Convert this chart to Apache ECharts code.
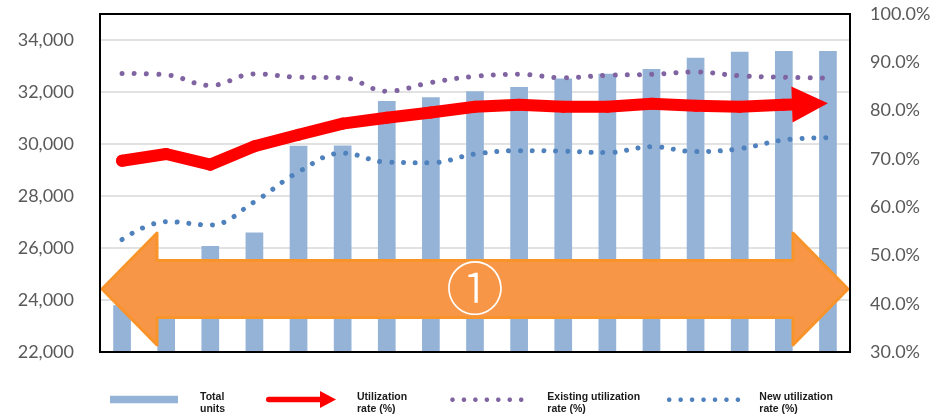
<!DOCTYPE html>
<html>
<head>
<meta charset="utf-8">
<style>
  html, body { margin: 0; padding: 0; background: #fff; }
  #chart { width: 948px; height: 419px; }
</style>
<script src="https://cdn.jsdelivr.net/npm/echarts@6/dist/echarts.min.js"></script>
</head>
<body>
<div id="chart"></div>
<script>
// Periods along the horizontal axis (labels are not displayed)
const periods = ['1', '2', '3', '4', '5', '6', '7', '8', '9', '10', '11', '12', '13', '14', '15', '16', '17'];

// Total units (left axis)
const totalUnits = [23800, 24900, 26080, 26600, 29930, 29940, 31650, 31800, 32030, 32190, 32520, 32700, 32880, 33320, 33550, 33580, 33580];

// Rates in percent (right axis)
const utilizationRate = [69.6, 71.0, 68.8, 72.6, 75.0, 77.3, 78.5, 79.6, 80.8, 81.2, 80.8, 80.8, 81.4, 81.0, 80.8, 81.2, 81.5];
const existingRate = [87.7, 87.4, 85.2, 87.6, 86.9, 86.8, 84.0, 85.8, 87.1, 87.5, 86.8, 87.3, 87.5, 88.0, 87.2, 86.9, 86.7];
const newRate = [53.3, 57.0, 56.3, 61.1, 67.3, 71.2, 69.3, 69.2, 71.0, 71.7, 71.6, 71.3, 72.5, 71.5, 72.1, 73.9, 74.4];

// Axis ranges
const unitsAxis = { min: 22000, max: 35000, step: 2000, lastLabel: 34000 };
const rateAxis = { min: 30, max: 100, step: 10 };

// Series names and the two-line captions printed beside the legend keys
const names = {
  units: 'Total units',
  util: 'Utilization rate (%)',
  existing: 'Existing utilization rate (%)',
  fresh: 'New utilization rate (%)'
};
const captions = {
  'Total units': 'Total\nunits',
  'Utilization rate (%)': 'Utilization\nrate (%)',
  'Existing utilization rate (%)': 'Existing utilization\nrate (%)',
  'New utilization rate (%)': 'New utilization\nrate (%)'
};

const COLORS = {
  bar: '#95B3D7',
  red: '#FF0000',
  purple: '#8064A2',
  blue: '#4F81BD',
  orange: '#F79646',
  orangeEdge: '#F9942A',
  label: '#595959',
  grid: '#D9D9D9',
  legendText: '#1A1A1A'
};

const GRID = { left: 100, right: 98, top: 14, bottom: 67 };
const W = 948, H = 419;

function withCommas(v) {
  return String(v).replace(/\B(?=(\d{3})+(?!\d))/g, ',');
}

// Legend key: a row of round dots
function dotRowPath(count, r, gap) {
  let d = '';
  const sides = 14;
  for (let k = 0; k < count; k++) {
    const cx = r + k * gap, cy = r;
    for (let s = 0; s < sides; s++) {
      const a = (s / sides) * Math.PI * 2;
      const x = (cx + r * Math.cos(a)).toFixed(2);
      const y = (cy + r * Math.sin(a)).toFixed(2);
      d += (s === 0 ? 'M' : 'L') + x + ' ' + y + ' ';
    }
    d += 'Z ';
  }
  return 'path://' + d;
}
const DOT_R = 2.3, DOT_GAP = 11.45;
const dotIconW = DOT_R * 2 + DOT_GAP * 6;

// Legend key: thick arrow pointing right
const arrowIcon = 'path://M2.7 5.8 L54 5.8 L54 0 L70 8.5 L54 17 L54 11.2 L2.7 11.2 Q0 11.2 0 8.5 Q0 5.8 2.7 5.8 Z';

// One legend key per block; the caption text is placed separately beside it
const LEGEND_PAD = 5;
function legendKey(keyLeft, keyTop, name, icon, w, h, color) {
  return {
    left: keyLeft - LEGEND_PAD,
    top: keyTop - LEGEND_PAD,
    padding: LEGEND_PAD,
    itemWidth: w,
    itemHeight: h,
    itemGap: 0,
    selectedMode: false,
    formatter: () => '',
    textStyle: { fontSize: 1, lineHeight: 1, padding: 0 },
    data: [{ name: name, icon: icon, itemStyle: { color: color, borderWidth: 0 } }]
  };
}

const CAPTION_TOP = 390.4;
function caption(x, name) {
  return {
    type: 'text',
    x: x,
    y: CAPTION_TOP,
    z: 30,
    style: {
      text: captions[name],
      fill: COLORS.legendText,
      font: 'bold 10.5px "Liberation Sans", Arial, sans-serif',
      lineHeight: 12.6,
      align: 'left',
      verticalAlign: 'top'
    }
  };
}

// Thick red polyline ending in an arrowhead, drawn segment by segment
const HEAD_LEN = 36, HEAD_HALF = 18, RED_WIDTH = 12;
function renderUtilization(params, api) {
  const i = params.dataIndex;
  const last = utilizationRate.length - 1;
  const style = { stroke: COLORS.red, lineWidth: RED_WIDTH, lineCap: 'round', lineJoin: 'round', fill: null };
  const cur = api.coord([i, api.value(1)]);
  if (i === 0) {
    return { type: 'circle', shape: { cx: cur[0], cy: cur[1], r: RED_WIDTH / 2 }, style: { fill: COLORS.red } };
  }
  const prev = api.coord([i - 1, utilizationRate[i - 1]]);
  if (i < last) {
    return { type: 'line', shape: { x1: prev[0], y1: prev[1], x2: cur[0], y2: cur[1] }, style: style };
  }
  const dx = cur[0] - prev[0], dy = cur[1] - prev[1];
  const len = Math.hypot(dx, dy);
  const ux = dx / len, uy = dy / len;
  const bx = cur[0] - ux * HEAD_LEN, by = cur[1] - uy * HEAD_LEN;
  return {
    type: 'group',
    children: [
      { type: 'line', shape: { x1: prev[0], y1: prev[1], x2: bx + ux * 2, y2: by + uy * 2 }, style: style },
      {
        type: 'polygon',
        shape: { points: [cur, [bx - uy * HEAD_HALF, by + ux * HEAD_HALF], [bx + uy * HEAD_HALF, by - ux * HEAD_HALF]] },
        style: { fill: COLORS.red }
      }
    ]
  };
}

// Orange double-headed arrow with the circled marker
const plotL = GRID.left, plotR = W - GRID.right;
const plotT = GRID.top, plotB = H - GRID.bottom;
const arrowMidY = 289, shaftHalf = 28.5, headHalf = 56, headLen = 55;
const bandArrow = [
  [plotL + 2, arrowMidY],
  [plotL + 2 + headLen, arrowMidY - headHalf],
  [plotL + 2 + headLen, arrowMidY - shaftHalf],
  [plotR - 2 - headLen, arrowMidY - shaftHalf],
  [plotR - 2 - headLen, arrowMidY - headHalf],
  [plotR - 2, arrowMidY],
  [plotR - 2 - headLen, arrowMidY + headHalf],
  [plotR - 2 - headLen, arrowMidY + shaftHalf],
  [plotL + 2 + headLen, arrowMidY + shaftHalf],
  [plotL + 2 + headLen, arrowMidY + headHalf]
];

const chart = echarts.init(document.getElementById('chart'), null, { renderer: 'canvas' });

const option = {
  animation: false,
  backgroundColor: '#FFFFFF',
  grid: {
    left: GRID.left, right: GRID.right, top: GRID.top, bottom: GRID.bottom,
    show: false
  },
  xAxis: {
    type: 'category',
    data: periods,
    boundaryGap: true,
    axisLine: { show: false },
    axisTick: { show: false },
    axisLabel: { show: false },
    splitLine: { show: false }
  },
  yAxis: [
    {
      type: 'value',
      min: unitsAxis.min,
      max: unitsAxis.max,
      interval: unitsAxis.step,
      axisLine: { show: false },
      axisTick: { show: false },
      axisLabel: {
        margin: 26,
        color: COLORS.label,
        fontFamily: 'Lato, "Open Sans", sans-serif',
        fontSize: 18,
        formatter: v => (v <= unitsAxis.lastLabel ? withCommas(v) : '')
      },
      splitLine: { show: true, lineStyle: { color: COLORS.grid, width: 1.5 } }
    },
    {
      type: 'value',
      min: rateAxis.min,
      max: rateAxis.max,
      interval: rateAxis.step,
      axisLine: { show: false },
      axisTick: { show: false },
      axisLabel: {
        margin: 20,
        color: COLORS.label,
        fontFamily: 'Lato, "Open Sans", sans-serif',
        fontSize: 18,
        formatter: v => v.toFixed(1) + '%'
      },
      splitLine: { show: false }
    }
  ],
  legend: [
    legendKey(110, 395.7, names.units, 'rect', 68, 7.6, COLORS.bar),
    legendKey(266, 391, names.util, arrowIcon, 70, 17, COLORS.red),
    legendKey(450.2, 397.4, names.existing, dotRowPath(7, DOT_R, DOT_GAP), dotIconW, DOT_R * 2, COLORS.purple),
    legendKey(666.9, 397.4, names.fresh, dotRowPath(7, DOT_R, DOT_GAP), dotIconW, DOT_R * 2, COLORS.blue)
  ],
  series: [
    {
      name: names.units,
      type: 'bar',
      yAxisIndex: 0,
      data: totalUnits,
      barWidth: 17.7,
      itemStyle: { color: COLORS.bar },
      z: 2
    },
    {
      name: names.existing,
      type: 'line',
      yAxisIndex: 1,
      data: existingRate,
      smooth: 0.4,
      showSymbol: false,
      symbol: 'none',
      itemStyle: { color: COLORS.purple },
      lineStyle: { color: COLORS.purple, width: 5, type: [0.01, 12.2], cap: 'round' },
      z: 4
    },
    {
      name: names.fresh,
      type: 'line',
      yAxisIndex: 1,
      data: newRate,
      smooth: 0.4,
      showSymbol: false,
      symbol: 'none',
      itemStyle: { color: COLORS.blue },
      lineStyle: { color: COLORS.blue, width: 5, type: [0.01, 11.8], cap: 'round' },
      z: 4
    },
    {
      name: names.util,
      type: 'custom',
      yAxisIndex: 1,
      data: utilizationRate.map((v, i) => [i, v]),
      encode: { x: 0, y: 1 },
      itemStyle: { color: COLORS.red },
      renderItem: renderUtilization,
      z: 6
    }
  ],
  graphic: [
    {
      type: 'polygon',
      z: 5,
      shape: { points: bandArrow },
      style: { fill: COLORS.orange, stroke: COLORS.orangeEdge, lineWidth: 3, lineJoin: 'round' }
    },
    {
      type: 'text',
      z: 6,
      x: (plotL + plotR) / 2,
      y: arrowMidY - 1,
      style: {
        text: '①',
        fill: '#FFFFFF',
        font: '300 58px "Noto Sans CJK JP", sans-serif',
        align: 'center',
        verticalAlign: 'middle'
      }
    },
    {
      // plot-area frame
      type: 'rect',
      z: 20,
      shape: { x: plotL, y: plotT, width: plotR - plotL, height: plotB - plotT },
      style: { fill: null, stroke: '#000000', lineWidth: 2 }
    },
    caption(200, names.units),
    caption(357, names.util),
    caption(547.3, names.existing),
    caption(759.3, names.fresh)
  ]
};

chart.setOption(option);
</script>
</body>
</html>
